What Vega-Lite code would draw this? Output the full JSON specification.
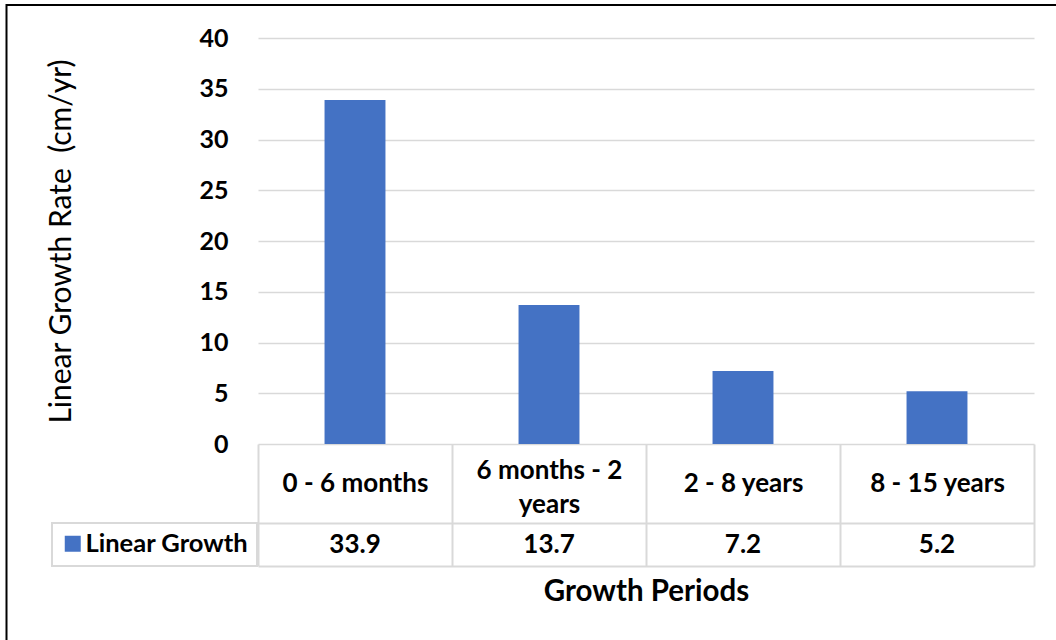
{
  "$schema": "https://vega.github.io/schema/vega-lite/v6.json",
  "autosize": "none",
  "width": 776,
  "height": 406,
  "padding": {"left": 258, "top": 38, "right": 22, "bottom": 196},
  "background": "white",
  "data": {
    "values": [
      {"period": "0 - 6 months", "rate": 33.9, "series": "Linear Growth"},
      {"period": "6 months - 2 years", "rate": 13.7, "series": "Linear Growth"},
      {"period": "2 - 8 years", "rate": 7.2, "series": "Linear Growth"},
      {"period": "8 - 15 years", "rate": 5.2, "series": "Linear Growth"}
    ]
  },
  "layer": [
    {
      "mark": {"type": "bar", "width": {"band": 0.314}},
      "encoding": {
        "x": {
          "field": "period", "type": "nominal", "sort": null,
          "scale": {"type": "band", "paddingInner": 0, "paddingOuter": 0},
          "axis": {
            "orient": "bottom", "offset": 0, "title": null, "domain": false,
            "ticks": true, "tickBand": "extent", "tickSize": 122, "tickColor": "#d9d9d9", "tickWidth": 2,
            "labelAngle": 0, "labelFont": "Lato", "labelFontWeight": "bold", "labelFontSize": 26, "labelColor": "black",
            "labelBaseline": {"condition": {"test": "datum.value == '6 months - 2 years'", "value": "bottom"}, "value": "middle"},
            "labelPadding": -83, "labelLineHeight": 34, "labelOverlap": false, "labelLimit": 0,
            "labelExpr": "datum.label == '6 months - 2 years' ? ['6 months - 2', 'years'] : datum.label",
            "grid": false
          }
        },
        "y": {
          "field": "rate", "type": "quantitative",
          "scale": {"domain": [0, 40], "nice": false},
          "axis": {
            "values": [0, 5, 10, 15, 20, 25, 30, 35, 40],
            "title": "Linear Growth Rate \u00a0(cm/yr)", "titleFont": "Lato", "titleFontWeight": "normal", "titleFontSize": 30, "titleColor": "black",
            "titlePadding": 122,
            "domain": false, "ticks": false,
            "labelFont": "Lato", "labelFontWeight": "bold", "labelFontSize": 25, "labelColor": "black", "labelPadding": 30,
            "grid": true, "gridColor": "#d9d9d9", "gridWidth": 1.5
          }
        },
        "color": {
          "field": "series", "type": "nominal",
          "scale": {"range": ["#4472c4"]},
          "legend": {
            "orient": "none", "legendX": -206, "legendY": 485, "title": null,
            "padding": 8, "strokeColor": "#d9d9d9",
            "symbolType": "square", "symbolSize": 256, "symbolStrokeWidth": 0, "symbolFillColor": "#4472c4",
            "labelFont": "Lato", "labelFontWeight": "bold", "labelFontSize": 25.5, "labelColor": "black", "labelOffset": 0, "labelLimit": 0
          }
        }
      }
    },
    {
      "mark": {"type": "point", "opacity": 0},
      "encoding": {
        "x": {
          "field": "rate", "type": "nominal", "sort": null,
          "scale": {"type": "band", "paddingInner": 0, "paddingOuter": 0},
          "axis": {
            "orient": "bottom", "offset": 79, "title": null,
            "domain": true, "domainColor": "#d9d9d9", "domainWidth": 2,
            "ticks": false, "labelAngle": 0,
            "labelFont": "Lato", "labelFontWeight": "bold", "labelFontSize": 26, "labelColor": "black",
            "labelBaseline": "middle", "labelPadding": 21, "grid": false
          }
        }
      }
    },
    {
      "mark": {"type": "point", "opacity": 0},
      "encoding": {
        "x": {
          "field": "period", "type": "nominal", "sort": null,
          "scale": {"type": "band", "paddingInner": 0, "paddingOuter": 0},
          "axis": {
            "orient": "bottom", "offset": 122,
            "domain": true, "domainColor": "#d9d9d9", "domainWidth": 2,
            "ticks": false, "labels": false, "grid": false,
            "title": "Growth Periods", "titleFont": "Lato", "titleFontWeight": "bold", "titleFontSize": 29.5, "titleColor": "black",
            "titlePadding": 11
          }
        },
        "shape": {
          "field": "period", "type": "nominal", "sort": null,
          "legend": {
            "orient": "none", "legendX": -251.5, "legendY": -33, "title": null,
            "padding": 1400, "strokeColor": "black",
            "labelExpr": "''", "symbolOpacity": 0
          }
        }
      }
    }
  ],
  "resolve": {"scale": {"x": "independent"}, "axis": {"x": "independent"}},
  "config": {
    "view": {"stroke": null},
    "font": "Lato",
    "legend": {"strokeWidth": 2}
  }
}
